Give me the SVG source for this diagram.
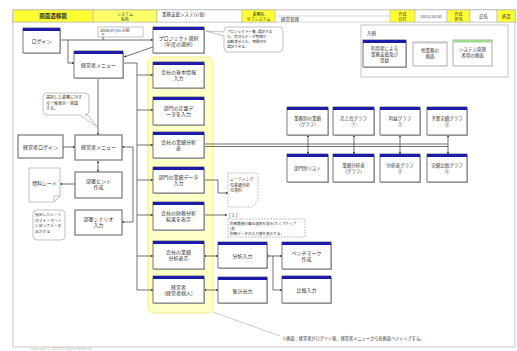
<svg xmlns="http://www.w3.org/2000/svg" width="517" height="351" viewBox="0 0 517 351">
<defs>
<marker id="ar" viewBox="0 0 6 6" refX="6" refY="3" markerWidth="3.5" markerHeight="3.5" orient="auto"><path d="M0,0 L6,3 L0,6 z" fill="#222"/></marker>
<marker id="as" viewBox="0 0 6 6" refX="0" refY="3" markerWidth="3.5" markerHeight="3.5" orient="auto"><path d="M6,0 L0,3 L6,6 z" fill="#222"/></marker>
</defs>
<style>
text{font-family:"Noto Sans CJK JP","Noto Sans",sans-serif;fill:#333;font-size:5px}
.c{text-anchor:middle}
.nb{fill:#fff;stroke:#555;stroke-width:0.8}
.sh{fill:#bbb}
.bar{fill:#1c1caa}
.gbar{fill:#ccc}
.grn{fill:#9fd88f}
.pl{fill:#fff;stroke:#777;stroke-width:1.2}
.ln{stroke:#333;stroke-width:0.7;fill:none}
.note{fill:#fff;stroke:#999;stroke-width:0.6}
.dash{fill:#fff;stroke:#999;stroke-width:0.6;stroke-dasharray:2,1}
.hy{fill:#ffff33;stroke:#aaa;stroke-width:0.5}
.hw{fill:#fff;stroke:#aaa;stroke-width:0.5}
.hl{fill:#ffffc8;stroke:#f2ee80;stroke-width:1}
</style>
<rect width="517" height="351" fill="#fff"/>
<rect x="13" y="10" width="502" height="337" fill="#fff" stroke="#bbb" stroke-width="0.8"/>

<g id="header">
<rect class="hw" x="13" y="10" width="502" height="12"/>
<rect class="hy" x="13" y="10" width="80" height="12"/>
<text class="c" x="53" y="18" style="font-size:5.5px;font-weight:bold">画面遷移図</text>
<rect class="hy" x="93" y="10" width="64" height="12" style="fill:#ffff66"/>
<text class="c" x="125" y="15.5" style="font-size:4px">システム</text>
<text class="c" x="125" y="20.5" style="font-size:4px">名称</text>
<rect class="hw" x="157" y="10" width="85" height="12"/>
<text x="162" y="15.5" style="font-size:4.5px">業務支援システム(仮)</text>
<rect class="hy" x="242" y="10" width="33" height="12"/>
<text class="c" x="258.5" y="15.5" style="font-size:4px">業務名</text>
<text class="c" x="258.5" y="20.5" style="font-size:4px">サブシステム</text>
<line x1="275" y1="16" x2="390" y2="16" stroke="#aaa" stroke-width="0.5"/>
<text x="281" y="20.5" style="font-size:4.5px">経営管理</text>
<rect class="hy" x="390" y="10" width="25" height="12"/>
<text class="c" x="402.5" y="15.5" style="font-size:4px">作成</text>
<text class="c" x="402.5" y="20.5" style="font-size:4px">日付</text>
<rect class="hw" x="415" y="10" width="32" height="12"/>
<text class="c" x="431" y="17.5" style="font-size:4px">2013/10/30</text>
<rect class="hy" x="447" y="10" width="23" height="12"/>
<text class="c" x="458.5" y="15.5" style="font-size:4px">作成</text>
<text class="c" x="458.5" y="20.5" style="font-size:4px">担当</text>
<rect class="hw" x="470" y="10" width="27" height="12"/>
<text class="c" x="483.5" y="17.5" style="font-size:4.5px">氏名</text>
<rect class="hy" x="497" y="10" width="18" height="12"/>
<text class="c" x="506" y="17.5" style="font-size:4.5px">承認</text>
</g>

<rect id="highlight" class="hl" x="148" y="57" width="65" height="256" rx="6"/>

<g id="connectors">
<path class="ln" d="M60,40 H153" marker-end="url(#ar)"/>
<path class="ln" d="M103,37 V40"/>
<path class="ln" d="M68,40 V63 H74" marker-end="url(#ar)"/>
<path class="ln" d="M153,47 L124,57" marker-end="url(#ar)"/>
<path class="ln" d="M123,63 H137 V290"/>
<path class="ln" d="M137,75 H153" marker-end="url(#ar)"/>
<path class="ln" d="M137,110 H153" marker-end="url(#ar)"/>
<path class="ln" d="M137,145 H153" marker-end="url(#ar)"/>
<path class="ln" d="M137,180 H153" marker-end="url(#ar)"/>
<path class="ln" d="M137,215 H153" marker-end="url(#ar)"/>
<path class="ln" d="M137,256 H153" marker-end="url(#ar)"/>
<path class="ln" d="M137,290 H153" marker-end="url(#ar)"/>
<path class="ln" d="M98,78 V135" marker-end="url(#ar)"/>
<path class="ln" d="M63,147 H75" marker-end="url(#ar)"/>
<path class="ln" d="M98,161 V172" marker-start="url(#as)" marker-end="url(#ar)"/>
<path class="ln" d="M75,184 H60" marker-end="url(#ar)"/>
<path class="ln" d="M133,147 V222"/>
<path class="ln" d="M133,147 H122" marker-end="url(#ar)"/>
<path class="ln" d="M133,222 H122" marker-end="url(#ar)"/>
<path class="ln" d="M204,144 H448 M204,146.5 H448"/>
<path class="ln" d="M308,135 V154" marker-start="url(#as)" marker-end="url(#ar)"/>
<path class="ln" d="M354,135 V154" marker-start="url(#as)" marker-end="url(#ar)"/>
<path class="ln" d="M400,135 V154" marker-start="url(#as)" marker-end="url(#ar)"/>
<path class="ln" d="M448,135 V154" marker-start="url(#as)" marker-end="url(#ar)"/>
<path class="ln" d="M204,180 H218 V193 H228" marker-end="url(#ar)"/>
<path class="ln" d="M204,215 H227" marker-end="url(#ar)"/>
<path class="ln" d="M204,256 H218" marker-start="url(#as)" marker-end="url(#ar)"/>
<path class="ln" d="M267,256 H282" marker-start="url(#as)" marker-end="url(#ar)"/>
<path class="ln" d="M273,256 V290 H282" marker-end="url(#ar)"/>
<path class="ln" d="M204,290 H218" marker-start="url(#as)" marker-end="url(#ar)"/>
<path d="M213,312 L280,336" stroke="#aaa" stroke-width="0.6" fill="none"/>
</g>

<g id="n_login"><rect class="sh" x="24" y="29" width="37" height="25"/><rect class="nb" x="23" y="28" width="37" height="25"/><rect class="bar" x="23" y="28" width="37" height="3"/><text class="c" x="41.5" y="43">ログイン</text></g>
<g id="lbl_date"><rect class="note" x="98" y="27" width="45" height="10"/><text x="100" y="32" style="font-size:4px">2006/07/01 以前</text><text x="101" y="36.5" style="font-size:4px">※</text></g>
<g id="n_proj"><rect class="sh" x="154" y="28" width="51" height="26"/><rect class="nb" x="153" y="27" width="51" height="26"/><rect class="bar" x="153" y="27" width="51" height="3"/><text class="c" x="178.5" y="40">プロジェクト選択</text><text class="c" x="178.5" y="46">(年度の選択)</text></g>
<g id="cb_proj"><path class="note" d="M228,27 H279 Q283,27 283,31 V48 Q283,52 279,52 H228 Q224,52 224,48 V36 L206,31 L224,32 V31 Q224,27 228,27 z"/><text x="227" y="33" style="font-size:3.6px">プロジェクト一覧_選択する</text><text x="227" y="38" style="font-size:3.6px">と、有効なデータ期間が</text><text x="227" y="43" style="font-size:3.6px">自動表示され、期間内を</text><text x="227" y="48" style="font-size:3.6px">選択できる。</text></g>

<g id="legend"><rect x="361" y="25" width="147" height="52" fill="#fff" stroke="#999" stroke-width="0.6"/><text x="367" y="35" style="font-size:4.5px">凡例</text>
<rect class="sh" x="364" y="41" width="43" height="27"/><rect class="nb" x="363" y="40" width="43" height="27"/><rect class="bar" x="363" y="40" width="43" height="3"/><text class="c" x="384.5" y="50" style="font-size:4.5px">利用者による</text><text class="c" x="384.5" y="56" style="font-size:4.5px">業務支援及び</text><text class="c" x="384.5" y="62" style="font-size:4.5px">登録</text>
<rect class="nb" x="413" y="42" width="34" height="24" style="stroke:#999"/><rect class="gbar" x="413" y="42" width="34" height="1.5"/><text class="c" x="430" y="52" style="font-size:4.5px">他業務の</text><text class="c" x="430" y="58" style="font-size:4.5px">画面</text>
<rect class="nb" x="453" y="40" width="39" height="26" style="stroke:#999"/><rect class="grn" x="453" y="40" width="39" height="2.5"/><text class="c" x="472.5" y="51" style="font-size:4.5px">システム管理</text><text class="c" x="472.5" y="57" style="font-size:4.5px">者用の画面</text></g>

<g id="n_menu"><rect class="sh" x="75" y="52" width="49" height="27"/><rect class="nb" x="74" y="51" width="49" height="27"/><rect class="bar" x="74" y="51" width="49" height="3"/><text class="c" x="98.5" y="67">経営者メニュー</text></g>
<g id="cb_select"><path class="note" d="M47,93 H85 Q89,93 89,97 V111 Q89,115 85,115 H88 L97,127 L80,115 H47 Q43,115 43,111 V97 Q43,93 47,93 z"/><text x="46" y="99" style="font-size:4px">選択した業務に対す</text><text x="46" y="104.5" style="font-size:4px">る一覧表示・登録</text><text x="46" y="110" style="font-size:4px">する。</text></g>

<g id="n_elogin"><rect class="pl" x="18" y="135" width="45" height="23"/><text class="c" x="40.5" y="148.5">経営者ログイン</text></g>
<g id="n_menu2"><rect class="pl" x="75" y="135" width="47" height="25"/><text class="c" x="98.5" y="149">経営者メニュー</text></g>
<g id="n_hint"><rect class="pl" x="75" y="172" width="47" height="26"/><text class="c" x="98.5" y="183">部署ヒント</text><text class="c" x="98.5" y="189">作成</text></g>
<g id="doc_sheet"><path class="note" d="M29,168 H60 V196 L54,202 H29 z M54,202 V196 H60"/><text class="c" x="44.5" y="185">資料シート</text></g>
<g id="cb_sheet"><rect class="note" x="33" y="210" width="32" height="30" rx="4"/><text x="35" y="216" style="font-size:3.8px">指定したシート</text><text x="35" y="221.5" style="font-size:3.8px">のフォーマット</text><text x="35" y="227" style="font-size:3.8px">に従ってデータ</text><text x="35" y="232.5" style="font-size:3.8px">出力する</text></g>
<g id="n_scen"><rect class="pl" x="75" y="210" width="47" height="25"/><text class="c" x="98.5" y="221">部署シナリオ</text><text class="c" x="98.5" y="227">入力</text></g>

<g id="c1"><rect class="sh" x="154" y="63" width="51" height="26"/><rect class="nb" x="153" y="62" width="51" height="26"/><rect class="bar" x="153" y="62" width="51" height="3"/><text class="c" x="178.5" y="74">会社の基本情報</text><text class="c" x="178.5" y="80">入力</text></g>
<g id="c2"><rect class="sh" x="154" y="98" width="51" height="28"/><rect class="nb" x="153" y="97" width="51" height="28"/><rect class="bar" x="153" y="97" width="51" height="3"/><text class="c" x="178.5" y="110">部門の定量デ</text><text class="c" x="178.5" y="116">ータを入力</text></g>
<g id="c3"><rect class="sh" x="154" y="133" width="51" height="26"/><rect class="nb" x="153" y="132" width="51" height="26"/><rect class="bar" x="153" y="132" width="51" height="3"/><text class="c" x="178.5" y="144">会社の業績分析</text><text class="c" x="178.5" y="150">表</text></g>
<g id="c4"><rect class="sh" x="154" y="168" width="51" height="26"/><rect class="nb" x="153" y="167" width="51" height="26"/><rect class="bar" x="153" y="167" width="51" height="3"/><text class="c" x="178.5" y="179">部門の業績データ</text><text class="c" x="178.5" y="185">入力</text></g>
<g id="c5"><rect class="sh" x="154" y="203" width="51" height="28"/><rect class="nb" x="153" y="202" width="51" height="28"/><rect class="bar" x="153" y="202" width="51" height="3"/><text class="c" x="178.5" y="215">会社の財務分析</text><text class="c" x="178.5" y="221">結果を表示</text></g>
<g id="c6"><rect class="sh" x="154" y="242" width="51" height="28"/><rect class="nb" x="153" y="241" width="51" height="28"/><rect class="bar" x="153" y="241" width="51" height="3"/><text class="c" x="178.5" y="254">会社の業績</text><text class="c" x="178.5" y="260">分析表示</text></g>
<g id="c7"><rect class="sh" x="154" y="277" width="51" height="27"/><rect class="nb" x="153" y="276" width="51" height="27"/><rect class="bar" x="153" y="276" width="51" height="3"/><text class="c" x="178.5" y="289">経営者</text><text class="c" x="178.5" y="295">(経営者個人)</text></g>

<g id="r1"><rect class="sh" x="288" y="108" width="41" height="28"/><rect class="nb" x="287" y="107" width="41" height="28"/><rect class="bar" x="287" y="107" width="41" height="3"/><text class="c" x="307.5" y="120" style="font-size:4.5px">業務別の業績</text><text class="c" x="307.5" y="126" style="font-size:4.5px">(グラフ)</text></g>
<g id="r2"><rect class="sh" x="334" y="108" width="41" height="28"/><rect class="nb" x="333" y="107" width="41" height="28"/><rect class="bar" x="333" y="107" width="41" height="3"/><text class="c" x="353.5" y="120" style="font-size:4.5px">売上高グラフ</text><text class="c" x="353.5" y="126" style="font-size:4.5px">①</text></g>
<g id="r3"><rect class="sh" x="381" y="108" width="40" height="28"/><rect class="nb" x="380" y="107" width="40" height="28"/><rect class="bar" x="380" y="107" width="40" height="3"/><text class="c" x="400" y="120" style="font-size:4.5px">利益グラフ</text><text class="c" x="400" y="126" style="font-size:4.5px">②</text></g>
<g id="r4"><rect class="sh" x="428" y="108" width="40" height="28"/><rect class="nb" x="427" y="107" width="40" height="28"/><rect class="bar" x="427" y="107" width="40" height="3"/><text class="c" x="447" y="120" style="font-size:4.5px">予算実績グラフ</text><text class="c" x="447" y="126" style="font-size:4.5px">③</text></g>
<g id="r5"><rect class="sh" x="288" y="155" width="41" height="28"/><rect class="nb" x="287" y="154" width="41" height="28"/><rect class="bar" x="287" y="154" width="41" height="3"/><text class="c" x="307.5" y="170" style="font-size:4.5px">部門別リスト</text></g>
<g id="r6"><rect class="sh" x="334" y="155" width="41" height="28"/><rect class="nb" x="333" y="154" width="41" height="28"/><rect class="bar" x="333" y="154" width="41" height="3"/><text class="c" x="353.5" y="167" style="font-size:4.5px">業績分析表</text><text class="c" x="353.5" y="173" style="font-size:4.5px">(グラフ)</text></g>
<g id="r7"><rect class="sh" x="381" y="155" width="40" height="28"/><rect class="nb" x="380" y="154" width="40" height="28"/><rect class="bar" x="380" y="154" width="40" height="3"/><text class="c" x="400" y="167" style="font-size:4.5px">分析表グラフ</text><text class="c" x="400" y="173" style="font-size:4.5px">④</text></g>
<g id="r8"><rect class="sh" x="428" y="155" width="40" height="28"/><rect class="nb" x="427" y="154" width="40" height="28"/><rect class="bar" x="427" y="154" width="40" height="3"/><text class="c" x="447" y="167" style="font-size:4.5px">実績比較グラフ</text><text class="c" x="447" y="173" style="font-size:4.5px">⑤</text></g>

<g id="m1"><path class="dash" d="M228,173 H258 V201 L252,207 H228 z"/><text x="230" y="181" style="font-size:4px">ミーティング</text><text x="230" y="186.5" style="font-size:4px">の業績分析</text><text x="230" y="192" style="font-size:4px">の資料</text></g>
<g id="m_bracket"><text x="229" y="217" style="font-size:5px">[ 1 ]</text></g>
<g id="m2"><rect class="dash" x="228" y="219" width="77" height="18"/><text x="230" y="225" style="font-size:3.6px">財務数値の算出根拠を表示(ポップアップ</text><text x="230" y="230" style="font-size:3.6px">)表</text><text x="230" y="235" style="font-size:3.6px">財務データの入力値を表示する。</text></g>

<g id="d1"><rect class="sh" x="219" y="243" width="49" height="26"/><rect class="nb" x="218" y="242" width="49" height="26"/><rect class="bar" x="218" y="242" width="49" height="3"/><text class="c" x="242.5" y="258">分析入力</text></g>
<g id="d2"><rect class="sh" x="283" y="243" width="49" height="27"/><rect class="nb" x="282" y="242" width="49" height="27"/><rect class="bar" x="282" y="242" width="49" height="3"/><text class="c" x="306.5" y="255">ベンチマーク</text><text class="c" x="306.5" y="261">作成</text></g>
<g id="d3"><rect class="sh" x="283" y="277" width="49" height="27"/><rect class="nb" x="282" y="276" width="49" height="27"/><rect class="bar" x="282" y="276" width="49" height="3"/><text class="c" x="306.5" y="292">比較入力</text></g>
<g id="d4"><rect class="sh" x="219" y="278" width="49" height="26"/><rect class="nb" x="218" y="277" width="49" height="26"/><rect class="bar" x="218" y="277" width="49" height="3"/><text class="c" x="242.5" y="293">集計出力</text></g>

<text x="282" y="340" style="font-size:4.2px">※画面：経営者がログイン後、経営者メニューから各画面へジャンプする。</text>
<text x="30" y="350" style="font-size:3.5px;fill:#bbb">Copyright (C) 2013 All Rights Reserved.</text>
</svg>
